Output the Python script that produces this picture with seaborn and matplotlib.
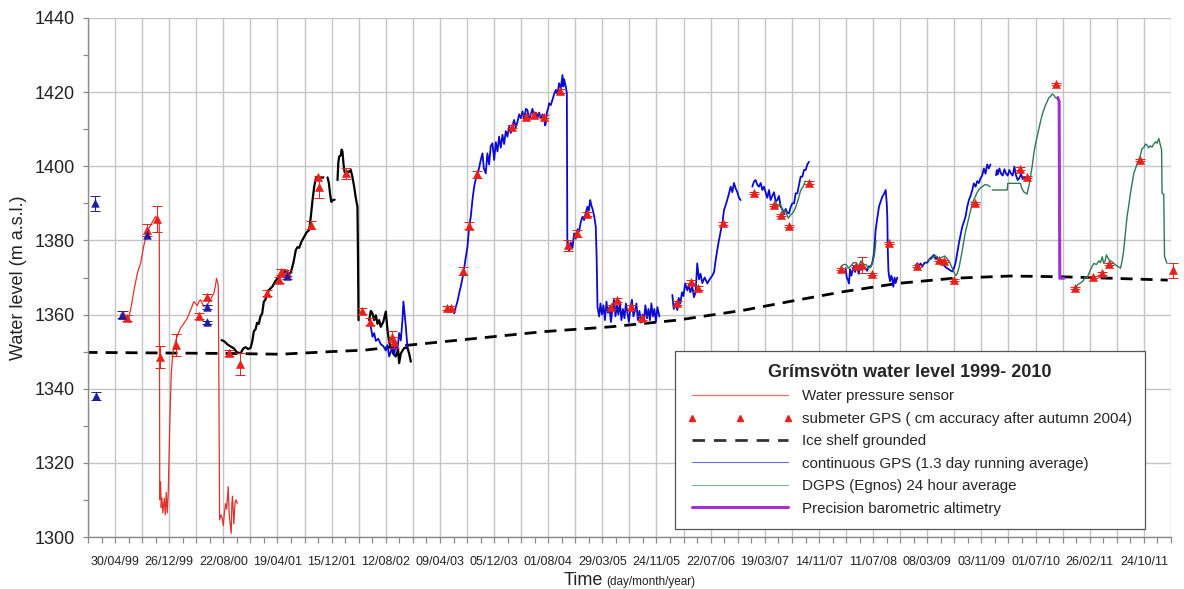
import numpy as np
import pandas as pd
import matplotlib
matplotlib.use("Agg")
import matplotlib.pyplot as plt
from matplotlib.lines import Line2D
import seaborn as sns

# ---------------------------------------------------------------------------
# Grímsvötn lake level, 1999-2011 (time in decimal years, level in m a.s.l.)
# ---------------------------------------------------------------------------

# Water pressure sensor
pressure_t = [1999.393, 1999.445, 1999.486, 1999.520, 1999.563, 1999.600, 1999.635, 1999.672,
              1999.717, 1999.760, 1999.790, 1999.817, 1999.850, 1999.862, 1999.868, 1999.878,
              1999.886, 1999.894, 1999.906, 1999.923, 1999.935, 1999.947, 1999.959, 1999.971,
              1999.979, 1999.991, 2000.008, 2000.025, 2000.039, 2000.084, 2000.121, 2000.160,
              2000.202, 2000.242, 2000.282, 2000.303, 2000.323, 2000.343, 2000.363, 2000.403,
              2000.444, 2000.484, 2000.525, 2000.545, 2000.557, 2000.578, 2000.586, 2000.594,
              2000.610, 2000.626, 2000.640, 2000.650, 2000.666, 2000.680, 2000.699, 2000.707,
              2000.715, 2000.735, 2000.743, 2000.751, 2000.767, 2000.782, 2000.796, 2000.808]
pressure_h = [1359.9, 1359.4, 1358.6, 1362.0, 1367.5, 1371.5, 1373.8, 1378.3,
              1382.5, 1384.2, 1385.5, 1386.4, 1385.5, 1384.5, 1310.0, 1314.9,
              1308.0, 1310.5, 1306.5, 1310.5, 1306.0, 1312.0, 1306.5, 1312.0,
              1320.0, 1331.6, 1344.2, 1349.0, 1351.3, 1354.5, 1356.4, 1357.6,
              1359.0, 1361.2, 1363.5, 1363.0, 1362.4, 1363.5, 1364.0, 1362.2,
              1362.6, 1364.0, 1365.8, 1368.0, 1369.8, 1368.0, 1340.0, 1304.6,
              1306.0, 1305.0, 1303.0, 1306.0, 1309.0, 1307.5, 1313.6, 1308.0,
              1305.0, 1301.0, 1309.0, 1311.0, 1303.5, 1309.5, 1310.0, 1309.0]

# Early continuous record (black), NaN marks a gap in the record
early_t = [2000.618, 2000.650, 2000.687, 2000.720, 2000.767, 2000.800, 2000.848, 2000.880,
           2000.909, 2000.940, 2000.970, 2000.990, 2001.010, 2001.030, 2001.050, 2001.070,
           2001.090, 2001.111, 2001.131, 2001.150, 2001.172, 2001.200, 2001.233, 2001.270,
           2001.313, 2001.350, 2001.394, 2001.430, 2001.458, 2001.490, 2001.519, 2001.540,
           2001.560, 2001.590, 2001.621, 2001.650, 2001.682, 2001.701, 2001.720, 2001.742,
           2001.760, 2001.774, 2001.800, 2001.822, 2001.850, np.nan,
           2001.904, 2001.920, 2001.935, 2001.950, 2001.964, 2001.990, np.nan,
           2002.025, 2002.035, 2002.045, 2002.065, 2002.075, 2002.085, 2002.097, 2002.110,
           2002.126, 2002.150, 2002.167, 2002.186, 2002.205, 2002.227, 2002.247, 2002.267,
           2002.274, 2002.280, np.nan,
           2002.409, 2002.430, 2002.449, 2002.470, 2002.490, 2002.510, 2002.530, 2002.550,
           2002.580, 2002.611, 2002.631, 2002.652, 2002.672, 2002.700, 2002.732, 2002.760,
           2002.773, 2002.793, 2002.834, 2002.874, 2002.894, 2002.915]
early_h = [1353.1, 1352.8, 1352.0, 1351.5, 1350.9, 1349.9, 1349.5, 1350.8,
           1351.2, 1350.7, 1351.0, 1352.7, 1355.5, 1356.0, 1357.8, 1357.5,
           1359.5, 1360.3, 1363.5, 1364.0, 1365.7, 1366.8, 1367.5, 1369.0,
           1370.2, 1371.0, 1371.6, 1370.8, 1371.3, 1374.0, 1377.4, 1378.2,
           1378.0, 1379.8, 1381.0, 1382.2, 1382.8, 1386.4, 1390.5, 1394.5,
           1396.5, 1397.2, 1396.8, 1397.0, 1396.9, np.nan,
           1397.0, 1395.5, 1392.5, 1390.4, 1390.8, 1391.0, np.nan,
           1396.3, 1401.0, 1402.6, 1403.0, 1404.5, 1404.0, 1400.8, 1398.5,
           1398.1, 1398.6, 1398.5, 1399.0, 1397.2, 1394.5, 1391.4, 1389.1,
           1375.0, 1358.5, np.nan,
           1358.5, 1361.0, 1360.3, 1358.5, 1359.8, 1357.5, 1358.5, 1356.7,
           1358.0, 1360.8, 1356.0, 1352.5, 1351.3, 1349.5, 1348.7, 1350.5,
           1346.9, 1349.5, 1351.0, 1351.0, 1349.5, 1347.3]

# Continuous GPS (1.3 day running average)
cgps_t = [2002.429, 2002.450, 2002.470, 2002.490, 2002.520, 2002.550, 2002.580, 2002.611,
          2002.632, 2002.652, 2002.672, 2002.692, 2002.712, 2002.732, 2002.752, 2002.773,
          2002.793, 2002.813, 2002.825, 2002.840, 2002.853, 2002.874, np.nan,
          2003.440, 2003.460, 2003.480, 2003.501, 2003.525, 2003.553, 2003.575, 2003.602,
          2003.622, 2003.642, 2003.663, 2003.683, 2003.703, 2003.723, 2003.743, 2003.763,
          2003.784, 2003.800, 2003.824, 2003.844, 2003.865, 2003.885, 2003.905, 2003.926,
          2003.946, 2003.966, 2003.986, 2004.006, 2004.027, 2004.047, 2004.067, 2004.087,
          2004.108, 2004.128, 2004.148, 2004.168, 2004.189, 2004.209, 2004.229, 2004.249,
          2004.270, 2004.290, 2004.310, 2004.330, 2004.350, 2004.371, 2004.391, 2004.411,
          2004.431, 2004.451, 2004.472, 2004.492, 2004.512, 2004.532, 2004.545, 2004.552,
          2004.565, 2004.580, 2004.593, 2004.613, 2004.633, 2004.654, 2004.674, 2004.694,
          2004.714, 2004.735, 2004.755, 2004.765, 2004.775, 2004.795, 2004.808, 2004.814,
          2004.836, 2004.856, 2004.876, 2004.897, 2004.917, 2004.937, 2004.957, 2004.977,
          2004.998, 2005.018, 2005.038, 2005.058, 2005.075, 2005.091, 2005.105, 2005.119,
          2005.140, 2005.159, 2005.170, 2005.180, 2005.200, 2005.216, 2005.234, 2005.252,
          2005.270, 2005.289, 2005.307, 2005.325, 2005.343, 2005.361, 2005.380, 2005.398,
          2005.416, 2005.434, 2005.452, 2005.470, 2005.489, 2005.507, 2005.525, 2005.543,
          2005.561, 2005.580, 2005.598, 2005.616, 2005.634, 2005.652, 2005.670, 2005.689,
          2005.707, 2005.725, 2005.743, 2005.761, 2005.780, 2005.798, 2005.816, 2005.834,
          2005.852, 2005.870, 2005.889, 2005.907, 2005.931, np.nan,
          2006.088, 2006.105, 2006.125, 2006.149, 2006.165, 2006.185, 2006.205, 2006.222,
          2006.245, 2006.270, 2006.290, 2006.306, 2006.331, 2006.350, 2006.371, 2006.390,
          2006.412, 2006.430, 2006.452, 2006.480, 2006.513, 2006.540, 2006.573, 2006.595,
          2006.614, 2006.634, 2006.654, 2006.675, 2006.695, 2006.715, 2006.735, 2006.755,
          2006.776, 2006.796, 2006.816, 2006.836, 2006.857, 2006.877, 2006.897, 2006.917,
          np.nan,
          2007.059, 2007.079, 2007.099, 2007.119, 2007.139, 2007.160, 2007.180, 2007.200,
          2007.220, 2007.240, 2007.261, 2007.281, 2007.301, 2007.322, 2007.342, 2007.362,
          2007.382, 2007.402, 2007.422, 2007.443, 2007.463, 2007.483, 2007.504, 2007.524,
          2007.544, 2007.565, 2007.585, 2007.605, 2007.625, 2007.645, 2007.666, 2007.686,
          2007.706, 2007.726, 2007.747, np.nan,
          2008.190, 2008.205, 2008.220, 2008.231, 2008.245, 2008.260, 2008.271, 2008.290,
          2008.305, 2008.320, 2008.332, 2008.350, 2008.373, 2008.390, 2008.410, 2008.433,
          2008.450, 2008.474, 2008.495, 2008.515, 2008.535, 2008.545, 2008.555, 2008.575,
          2008.596, 2008.616, 2008.636, 2008.656, 2008.677, 2008.690, 2008.697, 2008.702,
          2008.710, 2008.717, 2008.730, 2008.745, 2008.758, 2008.770, 2008.785, 2008.798,
          2008.818, np.nan,
          2009.040, 2009.060, 2009.080, 2009.100, 2009.121, 2009.150, 2009.182, 2009.210,
          2009.242, 2009.262, 2009.283, 2009.303, 2009.323, 2009.343, 2009.363, 2009.393,
          2009.424, 2009.455, 2009.485, 2009.505, 2009.525, 2009.545, 2009.565, 2009.586,
          2009.606, 2009.626, 2009.646, 2009.666, 2009.687, 2009.707, 2009.727, 2009.747,
          2009.768, 2009.788, 2009.808, 2009.828, 2009.848, 2009.869, 2009.889, 2009.909,
          2009.929, 2009.949, np.nan,
          2010.016, 2010.027, 2010.037, 2010.057, 2010.077, 2010.097, 2010.118, 2010.138,
          2010.158, 2010.178, 2010.198, 2010.218, 2010.239, 2010.259, 2010.279, 2010.299,
          2010.320, 2010.340, 2010.360, 2010.380]
cgps_h = [1356.7, 1354.0, 1355.0, 1352.9, 1353.5, 1352.0, 1351.5, 1350.3,
          1351.8, 1348.7, 1350.0, 1351.5, 1349.0, 1352.0, 1350.5, 1355.0,
          1353.0, 1358.5, 1363.5, 1360.0, 1357.0, 1351.0, np.nan,
          1360.3, 1362.0, 1363.5, 1365.7, 1368.0, 1371.1, 1374.5, 1378.3,
          1383.5, 1386.4, 1391.0, 1394.5, 1396.5, 1398.1, 1399.5, 1401.7,
          1403.5, 1399.5, 1398.1, 1403.5, 1400.5, 1405.5, 1406.2, 1401.7,
          1406.5, 1404.0, 1408.0, 1405.0, 1408.5, 1406.0, 1409.5, 1408.0,
          1410.7, 1409.0, 1411.0, 1412.5, 1410.5, 1412.0, 1414.0, 1413.0,
          1414.8, 1412.5, 1415.5, 1415.2, 1412.5, 1414.0, 1415.5, 1413.0,
          1414.5, 1413.0, 1414.5, 1413.0, 1414.0, 1413.2, 1411.0, 1411.5,
          1414.5, 1415.5, 1417.0, 1416.5, 1417.9, 1419.5, 1420.6, 1419.5,
          1422.4, 1421.0, 1424.6, 1421.5, 1423.5, 1421.5, 1419.7, 1378.3,
          1377.2, 1379.5, 1378.0, 1381.9, 1380.5, 1383.0, 1382.5, 1385.0,
          1386.4, 1385.5, 1387.5, 1389.1, 1388.0, 1390.9, 1389.5, 1388.5,
          1386.5, 1383.7, 1375.0, 1362.0, 1359.5, 1363.0, 1360.0, 1362.5,
          1358.5, 1363.5, 1360.5, 1362.0, 1358.0, 1361.5, 1364.0, 1359.5,
          1362.5, 1360.0, 1363.5, 1358.5, 1361.5, 1359.0, 1363.0, 1360.5,
          1358.0, 1362.0, 1364.0, 1359.5, 1361.0, 1363.0, 1358.5, 1361.0,
          1357.8, 1360.0, 1358.5, 1362.5, 1359.0, 1361.5, 1358.5, 1363.0,
          1359.5, 1361.5, 1358.0, 1362.0, 1359.5, np.nan,
          1365.3, 1361.5, 1363.0, 1361.2, 1364.5, 1363.0, 1366.0, 1365.0,
          1368.4, 1366.5, 1368.0, 1366.0, 1367.5, 1364.7, 1366.0, 1373.8,
          1369.5, 1371.0, 1368.5, 1370.0, 1368.4, 1369.5, 1370.5, 1371.5,
          1374.7, 1377.5, 1380.1, 1382.5, 1384.6, 1388.2, 1389.5, 1391.0,
          1392.7, 1394.5, 1393.0, 1395.5, 1394.0, 1393.0, 1391.5, 1390.9,
          np.nan,
          1394.5, 1395.9, 1396.3, 1395.0, 1394.5, 1395.5, 1393.6, 1394.5,
          1393.0, 1391.5, 1393.6, 1390.9, 1392.0, 1393.0, 1390.5, 1390.9,
          1392.0, 1389.1, 1388.5, 1387.3, 1388.5, 1387.5, 1387.3, 1389.0,
          1390.0, 1390.0, 1392.7, 1392.7, 1395.0, 1397.2, 1397.2, 1399.0,
          1399.0, 1400.5, 1401.2, np.nan,
          1372.5, 1370.0, 1369.3, 1368.4, 1372.2, 1370.5, 1371.5, 1373.0,
          1371.5, 1372.5, 1372.9, 1371.0, 1373.5, 1372.0, 1373.0, 1372.5,
          1371.8, 1373.0, 1372.9, 1374.0, 1376.5, 1379.5, 1382.8, 1386.0,
          1389.1, 1390.5, 1391.8, 1392.5, 1393.6, 1390.0, 1386.0, 1378.0,
          1372.0, 1370.5, 1369.0, 1370.5, 1369.5, 1367.5, 1370.0, 1368.5,
          1370.0, np.nan,
          1373.2, 1373.8, 1373.0, 1373.8, 1373.0, 1374.0, 1374.0, 1375.0,
          1375.6, 1376.1, 1375.0, 1375.5, 1374.5, 1374.0, 1373.8, 1373.0,
          1372.5, 1372.0, 1371.6, 1372.5, 1374.0, 1376.5, 1379.2, 1381.5,
          1383.7, 1385.0, 1386.4, 1389.0, 1390.9, 1392.0, 1393.5, 1395.4,
          1394.5, 1396.0, 1395.5, 1396.8, 1397.5, 1399.4, 1398.0, 1400.5,
          1399.4, 1400.5, np.nan,
          1397.6, 1399.0, 1397.8, 1399.4, 1398.0, 1397.5, 1399.2, 1398.0,
          1397.5, 1399.0, 1398.0, 1397.5, 1399.9, 1397.5, 1396.3, 1396.8,
          1398.0, 1396.5, 1397.0, 1396.8]

# DGPS (Egnos) 24 hour average
dgps_t = [2007.338, 2007.370, 2007.402, 2007.430, 2007.463, 2007.495, 2007.524, 2007.555,
          2007.585, 2007.615, 2007.645, 2007.675, 2007.702, np.nan,
          2008.135, 2008.165, 2008.196, 2008.226, 2008.256, 2008.287, 2008.317, 2008.347,
          2008.378, 2008.408, 2008.438, 2008.468, 2008.499, 2008.523, 2008.540, 2008.559,
          np.nan,
          2009.182, 2009.230, 2009.279, 2009.320, 2009.363, 2009.394, 2009.424, 2009.455,
          2009.485, 2009.505, 2009.525, 2009.545, 2009.570, 2009.600, 2009.642, 2009.685,
          2009.727, 2009.758, 2009.788, 2009.818, 2009.848, 2009.878, 2009.909, 2009.945,
          np.nan,
          2009.970, 2010.152, 2010.158, 2010.172, 2010.313, 2010.330, 2010.353, 2010.393,
          2010.418, 2010.436, 2010.454, 2010.475, 2010.495, 2010.515, 2010.535, 2010.555,
          2010.575, 2010.596, 2010.616, 2010.636, 2010.656, 2010.676, 2010.697, 2010.717,
          2010.737, 2010.757, 2010.770, np.nan,
          2010.980, 2011.005, 2011.037, 2011.070, 2011.101, 2011.120, 2011.142, 2011.170,
          2011.203, 2011.235, 2011.264, 2011.284, 2011.304, 2011.324, 2011.340, 2011.356,
          2011.380, 2011.404, 2011.435, 2011.465, 2011.495, 2011.526, 2011.546, 2011.566,
          2011.586, 2011.606, 2011.627, 2011.647, 2011.668, 2011.688, 2011.718, 2011.748,
          2011.768, 2011.788, 2011.808, 2011.829, 2011.849, 2011.869, 2011.889, 2011.910,
          2011.930, 2011.950, 2011.970, 2011.991, 2012.007, 2012.025, 2012.031, 2012.051,
          2012.061, 2012.091]
dgps_h = [1390.5, 1389.0, 1389.8, 1387.5, 1388.0, 1386.0, 1386.9, 1387.5,
          1389.0, 1391.0, 1393.5, 1394.5, 1396.0, np.nan,
          1373.0, 1373.5, 1373.5, 1372.5, 1373.2, 1374.0, 1374.0, 1373.0,
          1374.5, 1373.5, 1373.5, 1372.5, 1373.0, 1374.5, 1376.0, 1380.0,
          np.nan,
          1374.5, 1375.0, 1376.0, 1375.0, 1375.5, 1375.8, 1375.0, 1374.0,
          1372.5, 1371.5, 1370.5, 1371.0, 1373.0, 1376.5, 1382.0, 1386.0,
          1390.0, 1391.5, 1393.0, 1394.0, 1394.5, 1395.0, 1395.0, 1394.5,
          np.nan,
          1393.6, 1393.6, 1395.4, 1395.4, 1395.4, 1394.0, 1393.1, 1392.5,
          1395.0, 1397.5, 1399.9, 1403.5, 1406.0, 1408.0, 1410.0, 1412.0,
          1413.8, 1415.2, 1416.5, 1417.4, 1418.5, 1418.8, 1419.5, 1419.2,
          1418.5, 1418.3, 1418.8, np.nan,
          1367.1, 1368.0, 1368.5, 1369.0, 1370.2, 1369.8, 1371.0, 1372.5,
          1373.8, 1373.5, 1374.5, 1374.0, 1375.6, 1373.8, 1374.5, 1376.1,
          1375.0, 1374.5, 1374.0, 1373.4, 1373.0, 1372.5, 1374.5, 1377.4,
          1382.0, 1386.4, 1389.5, 1392.7, 1395.5, 1398.1, 1400.0, 1401.7,
          1403.0, 1404.8, 1405.0, 1406.0, 1405.7, 1405.0, 1405.5, 1405.2,
          1406.0, 1406.6, 1406.2, 1407.5, 1406.0, 1404.5, 1392.7, 1392.5,
          1375.6, 1373.8]

# Precision barometric altimetry
baro_t = [2010.765, 2010.782, 2010.790, 2010.840]
baro_h = [1418.5, 1417.5, 1369.8, 1369.8]

# Level at which the ice shelf is grounded
ice_t = [1998.968, 2000.727, 2001.330, 2001.940, 2002.350, 2002.910, 2003.720, 2004.530,
         2005.340, 2006.150, 2006.960, 2007.600, 2008.170, 2008.820, 2009.500, 2010.190,
         2010.800, 2011.410, 2012.100]
ice_h = [1349.8, 1349.5, 1349.3, 1350.0, 1350.4, 1351.8, 1353.6, 1355.4,
         1356.7, 1358.5, 1361.2, 1363.9, 1366.2, 1368.4, 1369.8, 1370.4,
         1370.2, 1369.8, 1369.3]

# Submeter GPS surveys (red) with their uncertainty
gps_t = [1999.421, 1999.474, 1999.717, 1999.829, 1999.866, 2000.068, 2000.343, 2000.444,
         2000.706, 2000.840, 2001.164, 2001.313, 2001.334, 2001.418, 2001.701, 2001.795,
         2001.783, 2002.126, 2002.328, 2002.422, 2002.692, 2002.716, 2003.359, 2003.399,
         2003.553, 2003.622, 2003.723, 2004.148, 2004.309, 2004.411, 2004.532, 2004.726,
         2004.823, 2004.936, 2005.049, 2005.340, 2005.421, 2005.583, 2005.725, 2006.149,
         2006.319, 2006.404, 2006.707, 2007.079, 2007.322, 2007.402, 2007.504, 2007.747,
         2008.130, 2008.312, 2008.393, 2008.514, 2008.717, 2009.060, 2009.323, 2009.384,
         2009.505, 2009.760, 2010.313, 2010.386, 2010.738, 2010.980, 2011.195, 2011.304,
         2011.386, 2011.762, 2012.165]
gps_h = [1359.9, 1359.0, 1382.8, 1385.7, 1348.6, 1351.8, 1359.6, 1364.8,
         1349.7, 1346.6, 1365.7, 1369.3, 1371.4, 1371.1, 1384.2, 1394.5,
         1397.2, 1398.1, 1361.0, 1358.1, 1354.0, 1352.5, 1361.7, 1361.7,
         1371.8, 1384.0, 1397.8, 1410.7, 1413.4, 1413.8, 1413.4, 1420.4,
         1378.7, 1381.9, 1387.1, 1362.1, 1364.0, 1362.1, 1359.0, 1363.2,
         1368.9, 1367.1, 1384.6, 1392.7, 1389.6, 1386.9, 1383.9, 1395.6,
         1372.3, 1373.2, 1373.4, 1371.0, 1379.4, 1373.2, 1374.7, 1374.5,
         1369.3, 1390.2, 1399.4, 1397.2, 1422.2, 1367.1, 1370.2, 1371.1,
         1373.6, 1401.7, 1372.0]
gps_err = [1.0, 0.8, 1.5, 3.5, 3.0, 3.0, 0.8, 0.8,
           0.8, 3.0, 0.8, 0.8, 0.8, 0.8, 1.0, 3.0,
           0.0, 1.5, 0.8, 1.0, 1.5, 1.5, 0.5, 0.5,
           1.0, 1.0, 1.0, 0.5, 0.5, 0.5, 0.5, 0.5,
           1.5, 1.0, 0.5, 0.5, 0.5, 0.5, 0.5, 0.5,
           0.5, 0.5, 0.5, 0.3, 0.3, 0.3, 0.3, 0.3,
           0.3, 0.3, 2.2, 0.3, 0.3, 0.3, 0.3, 0.3,
           0.3, 0.3, 0.3, 0.3, 0.3, 0.3, 0.3, 0.3,
           0.3, 0.3, 2.0]

# Older GPS points (blue)
old_gps_t = [1999.080, 1999.090, 1999.405, 1999.717, 2000.444, 2000.444, 2001.418]
old_gps_h = [1390.0, 1338.0, 1360.0, 1381.5, 1362.0, 1357.9, 1370.5]
old_gps_err = [2.0, 1.0, 1.0, 0.0, 0.5, 0.5, 1.0]

# Date axis labels (day/month/year)
date_labels = ["30/04/99", "26/12/99", "22/08/00", "19/04/01", "15/12/01", "12/08/02",
               "09/04/03", "05/12/03", "01/08/04", "29/03/05", "24/11/05", "22/07/06",
               "19/03/07", "14/11/07", "11/07/08", "08/03/09", "03/11/09", "01/07/10",
               "26/02/11", "24/10/11"]

legend_title = "Grímsvötn water level 1999- 2010"
legend_labels = ["Water pressure sensor",
                 "submeter GPS ( cm accuracy after autumn 2004)",
                 "Ice shelf grounded",
                 "continuous GPS (1.3 day running average)",
                 "DGPS (Egnos) 24 hour average",
                 "Precision barometric altimetry"]

# ---------------------------------------------------------------------------
C_PRESSURE = "#e0322c"
C_GPS = "#e8201a"
C_OLD_GPS = "#1c1ca6"
C_CGPS = "#0a0ad0"
C_DGPS = "#2c7a52"
C_BARO = "#a52fd6"
GRID = "#c4c4c4"
AXIS = "#8a8a8a"

sns.set_theme(style="white")
plt.rcParams["font.family"] = ["Liberation Sans", "DejaVu Sans"]


def to_year(ts):
    ts = pd.Timestamp(ts)
    start = pd.Timestamp(year=ts.year, month=1, day=1)
    end = pd.Timestamp(year=ts.year + 1, month=1, day=1)
    return ts.year + (ts - start) / (end - start)


def draw_runs(ax, t, h, **kw):
    """Draw a series as separate lines wherever it contains NaN gaps."""
    t = np.asarray(t, float)
    h = np.asarray(h, float)
    gaps = np.flatnonzero(np.isnan(t) | np.isnan(h))
    for run in np.split(np.arange(len(t)), gaps):
        run = run[~(np.isnan(t[run]) | np.isnan(h[run]))]
        if len(run) > 1:
            sns.lineplot(x=t[run], y=h[run], ax=ax, sort=False, estimator=None, **kw)


label_dates = pd.to_datetime(date_labels, format="%d/%m/%y")
x_start = label_dates[0] - pd.Timedelta(days=120)
x_end = label_dates[-1] + pd.Timedelta(days=120)
grid_dates = pd.date_range(x_start, x_end, freq="120D")
minor_dates = pd.date_range(x_start + pd.Timedelta(days=60), x_end, freq="120D")

fig = plt.figure(figsize=(11.84, 5.89), dpi=100)
ax = fig.add_axes([88 / 1184, 1 - 537 / 589, (1171 - 88) / 1184, (537 - 18) / 589])

draw_runs(ax, pressure_t, pressure_h, color=C_PRESSURE, linewidth=0.9, zorder=3)
draw_runs(ax, early_t, early_h, color="black", linewidth=1.6, zorder=3)
draw_runs(ax, cgps_t, cgps_h, color=C_CGPS, linewidth=1.3, zorder=3)
draw_runs(ax, dgps_t, dgps_h, color=C_DGPS, linewidth=1.0, zorder=4)
draw_runs(ax, baro_t, baro_h, color=C_BARO, linewidth=2.2, zorder=4)
sns.lineplot(x=ice_t, y=ice_h, ax=ax, sort=False, estimator=None, color="black",
             linewidth=2.0, dashes=False, zorder=2).lines[-1].set_dashes((4.3, 2.9))

# survey points with uncertainty bars
for t, h, err, col, size in [(gps_t, gps_h, gps_err, C_GPS, 34),
                             (old_gps_t, old_gps_h, old_gps_err, C_OLD_GPS, 30)]:
    e = np.asarray(err)
    m = e > 0
    eb = ax.errorbar(np.asarray(t)[m], np.asarray(h)[m], yerr=e[m], fmt="none",
                     ecolor=col, elinewidth=0.7, capsize=3.5, capthick=0.7, zorder=5)
    for art in eb.lines[1] + eb.lines[2]:
        art.set_clip_on(False)
    sns.scatterplot(x=t, y=h, ax=ax, marker="^", s=size, color=col, edgecolor=col,
                    linewidth=0.4, zorder=6, legend=False)
    ax.collections[-1].set_clip_on(False)

# axes, ticks and grid
ax.set_xlim(to_year(x_start), to_year(x_end))
ax.set_ylim(1300, 1440)
ax.set_xticks([to_year(d) for d in grid_dates])
ax.set_xticklabels([d.strftime("%d/%m/%y") if d in set(label_dates) else ""
                    for d in grid_dates])
ax.set_xticks([to_year(d) for d in minor_dates], minor=True)
ax.set_yticks(np.arange(1300, 1441, 20))
ax.set_yticks(np.arange(1310, 1440, 20), minor=True)

ax.grid(True, which="major", color=GRID, linewidth=1.0)
ax.set_axisbelow(True)
for side in ("top", "right"):
    ax.spines[side].set_visible(False)
for side in ("left", "bottom"):
    ax.spines[side].set_color(AXIS)
    ax.spines[side].set_linewidth(1.0)

ax.tick_params(axis="x", which="both", direction="out", length=4.3, width=0.9,
               color=AXIS, bottom=True, labelsize=9, pad=9.5, labelcolor="#222222")
ax.tick_params(axis="y", which="both", direction="out", length=3.8, width=0.9,
               color=AXIS, left=True, labelsize=13, pad=6, labelcolor="#222222")

ax.set_ylabel("Water level (m a.s.l.)", fontsize=13, labelpad=5, color="#222222")
fig.text(603 / 1184, 1 - 585 / 589, "Time", fontsize=13, ha="right", va="baseline",
         color="#222222")
fig.text(606 / 1184, 1 - 585 / 589, "(day/month/year)", fontsize=8.5, ha="left",
         va="baseline", color="#222222")

# legend
handles = [
    Line2D([], [], color=C_PRESSURE, linewidth=0.9, alpha=0.7),
    Line2D([], [], color=C_GPS, linestyle="none", marker="^", markersize=5),
    Line2D([], [], color="#333333", linewidth=2.0, dashes=(4.5, 3.2)),
    Line2D([], [], color=C_CGPS, linewidth=0.8, alpha=0.6),
    Line2D([], [], color=C_DGPS, linewidth=0.8, alpha=0.6),
    Line2D([], [], color=C_BARO, linewidth=2.2),
]
leg = ax.legend(handles, legend_labels, title=legend_title, loc="upper left",
                bbox_to_anchor=(675 / 1184, 1 - 351 / 589),
                bbox_transform=fig.transFigure, borderaxespad=0, numpoints=3,
                fontsize=10.9, handlelength=6.9, handletextpad=0.65, labelspacing=0.56,
                borderpad=0.85, frameon=True, fancybox=False, framealpha=1,
                edgecolor="#555555",
                title_fontproperties={"weight": "bold", "size": 13})
leg.get_frame().set_linewidth(0.9)
leg.set_zorder(10)

fig.savefig("out.png", dpi=100)
